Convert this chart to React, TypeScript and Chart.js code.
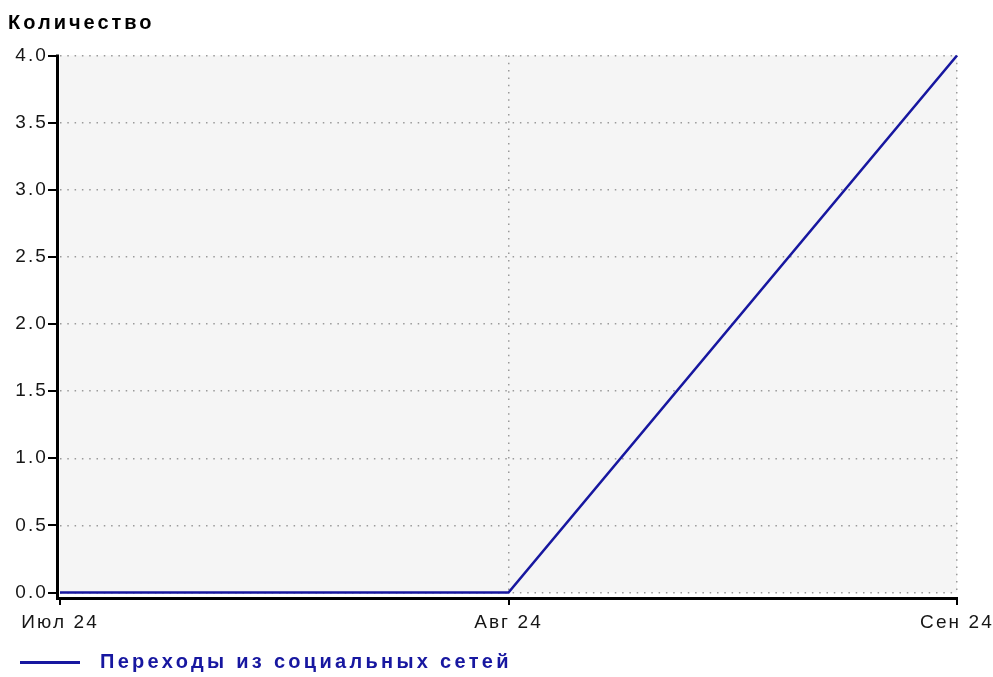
import React, { useEffect, useRef } from 'react';
import { Chart, registerables } from 'chart.js';

Chart.register(...registerables);

const titleText = 'Количество';
const categories = ['Июл 24', 'Авг 24', 'Сен 24'];
const seriesName = 'Переходы из социальных сетей';
const socialValues = [0, 0, 4];
const yTickValues = [0, 0.5, 1, 1.5, 2, 2.5, 3, 3.5, 4];

const LINE_COLOR = '#1717a0';
const FONT = "'Liberation Sans', Arial, sans-serif";
const TICK_LS = '2.1px';
const TITLE_LS = '3.0px';
const LEGEND_LS = '3.3px';

const bgAxesPlugin = {
  id: 'bgAxes',
  beforeLayout(chart: any) {
    chart.ctx.letterSpacing = TICK_LS;
  },
  beforeDraw(chart: any) {
    const { ctx, chartArea: a } = chart;
    ctx.letterSpacing = TICK_LS;
    ctx.save();
    ctx.fillStyle = '#f5f5f5';
    ctx.fillRect(a.left, a.top, a.right - a.left, a.bottom - a.top);
    ctx.restore();
  },
  afterDatasetsDraw(chart: any) {
    const { ctx, chartArea: a } = chart;
    ctx.save();
    ctx.fillStyle = '#000';
    // vertical axis
    ctx.fillRect(a.left - 4, a.top - 1, 3, a.bottom - a.top + 8);
    // horizontal axis
    ctx.fillRect(a.left - 4, Math.round(a.bottom + 4), a.right - a.left + 5, 3);
    const xs = chart.scales.x;
    xs.ticks.forEach((_t: any, i: number) => {
      const px = Math.round(xs.getPixelForTick(i));
      ctx.fillRect(px - 1, Math.round(a.bottom + 7), 2, 5);
    });
    const ys = chart.scales.y;
    ys.ticks.forEach((_t: any, i: number) => {
      const py = Math.round(ys.getPixelForTick(i));
      ctx.fillRect(a.left - 12, py - 1, 8, 2);
    });
    ctx.restore();
  },
};

function patchSpacing(box: any, ls: string) {
  if (!box) return;
  const orig = box.draw;
  box.draw = function (...args: any[]) {
    const c = this.ctx;
    const prev = c.letterSpacing;
    c.letterSpacing = ls;
    orig.apply(this, args);
    c.letterSpacing = prev;
  };
}

export default function App() {
  const canvasRef = useRef<HTMLCanvasElement | null>(null);

  useEffect(() => {
    document.body.style.margin = '0';
    const canvas = canvasRef.current;
    if (!canvas) return;

    const marker = document.createElement('canvas');
    marker.width = 70;
    marker.height = 3;
    const mctx = marker.getContext('2d')!;
    mctx.fillStyle = LINE_COLOR;
    mctx.fillRect(0, 0, 60, 3);

    const chart = new Chart(canvas, {
      type: 'line',
      data: {
        labels: categories,
        datasets: [
          {
            label: seriesName,
            data: socialValues,
            borderColor: LINE_COLOR,
            backgroundColor: LINE_COLOR,
            borderWidth: 2.6,
            pointRadius: 0,
            tension: 0,
            fill: false,
            clip: false,
          } as any,
        ],
      },
      options: {
        responsive: false,
        animation: false,
        events: [],
        layout: { padding: { left: 8, right: 36, top: 0, bottom: -5 } },
        plugins: {
          title: {
            display: true,
            text: titleText,
            align: 'start',
            color: '#000',
            font: { family: FONT, size: 20, weight: 'bold' },
            padding: { top: 11, bottom: 20.5 },
          },
          legend: {
            display: true,
            position: 'bottom',
            align: 'start',
            labels: {
              color: LINE_COLOR,
              font: { family: FONT, size: 20, weight: 'bold' },
              padding: 12,
              usePointStyle: true,
              pointStyle: marker as any,
              pointStyleWidth: 70,
            },
          },
          tooltip: { enabled: false },
        },
        scales: {
          x: {
            type: 'category',
            offset: false,
            grid: {
              display: true,
              color: (ctx: any) => (ctx.index === 0 ? 'rgba(0,0,0,0)' : '#9a9a9a'),
              lineWidth: 1.5,
              drawTicks: false,
            },
            border: { display: false, dash: [1.5, 5.8] },
            ticks: {
              color: '#161616',
              font: { family: FONT, size: 19 },
              padding: 19,
              maxRotation: 0,
              autoSkip: false,
            },
            afterFit: (s: any) => {
              s.height = 47.5;
              s.paddingLeft = 0;
              s.paddingRight = 0;
            },
          },
          y: {
            type: 'linear',
            min: 0,
            max: 4,
            afterBuildTicks: (s: any) => {
              s.ticks = yTickValues.map((v) => ({ value: v }));
            },
            grid: { display: true, color: '#9a9a9a', lineWidth: 1.5, drawTicks: false },
            border: { display: false, dash: [1.5, 5.8] },
            ticks: {
              color: '#161616',
              font: { family: FONT, size: 19 },
              padding: 12,
              callback: (v: any) => Number(v).toFixed(1),
            },
            afterFit: (s: any) => {
              s.width = 52;
              s.paddingTop = 0;
              s.paddingBottom = 0;
            },
          },
        },
      },
      plugins: [bgAxesPlugin],
    });

    patchSpacing((chart as any).titleBlock, TITLE_LS);
    patchSpacing((chart as any).legend, LEGEND_LS);
    chart.draw();

    return () => chart.destroy();
  }, []);

  return (
    <div style={{ width: 993, height: 677 }}>
      <canvas ref={canvasRef} width={993} height={677} />
    </div>
  );
}
